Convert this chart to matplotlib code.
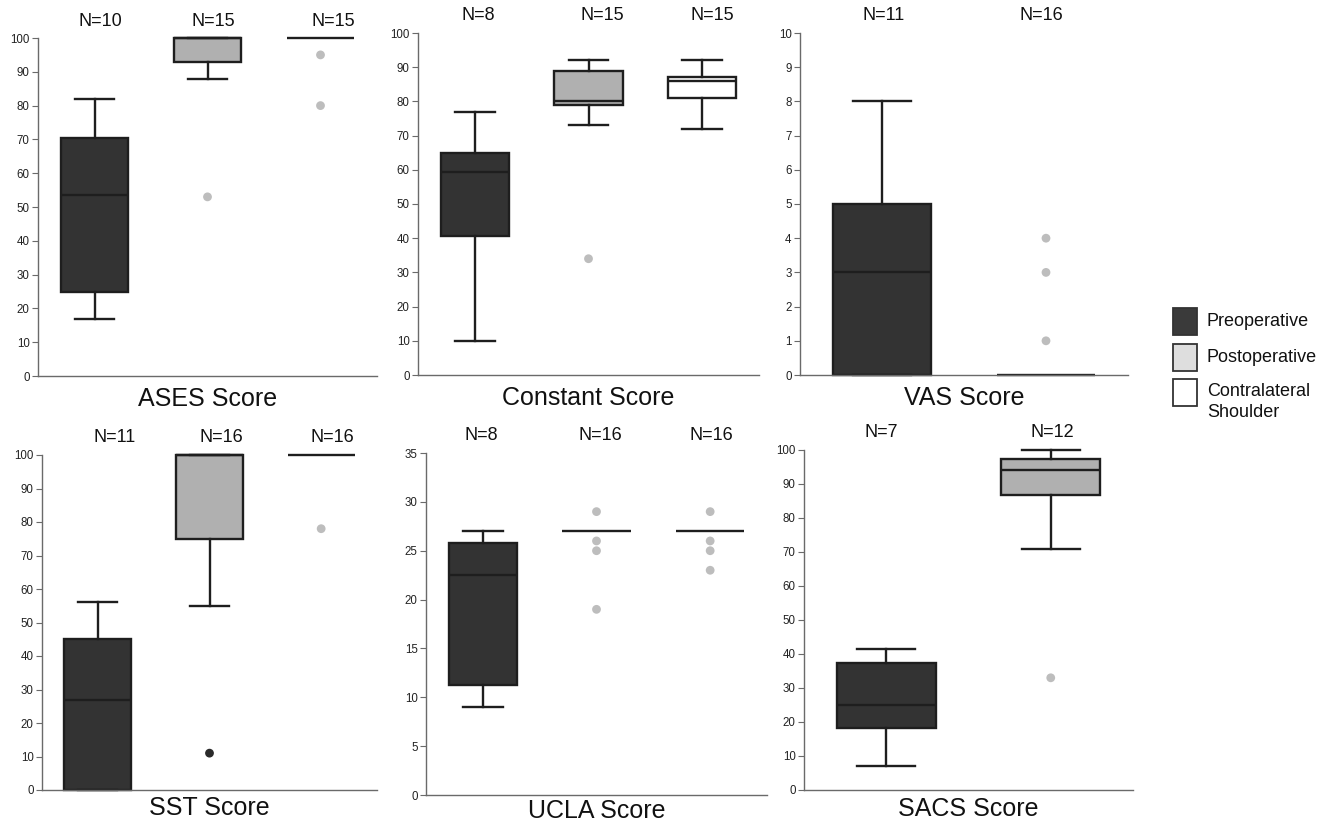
import matplotlib
matplotlib.use("Agg")
import matplotlib.pyplot as plt
from matplotlib.patches import Rectangle

plt.rcParams['font.family'] = ['Liberation Sans', 'DejaVu Sans']

# ---------------- data ----------------
groups = ["Preoperative", "Postoperative", "Contralateral\nShoulder"]

titles = ["ASES Score", "Constant Score", "VAS Score",
          "SST Score", "UCLA Score", "SACS Score"]

n_labels = [["N=10", "N=15", "N=15"],
            ["N=8", "N=15", "N=15"],
            ["N=11", "N=16"],
            ["N=11", "N=16", "N=16"],
            ["N=8", "N=16", "N=16"],
            ["N=7", "N=12"]]

# box statistics per panel: q1, median, q3, lower whisker, upper whisker, outliers
ases_q1 = [25, 93, 100]
ases_med = [53.5, 100, 100]
ases_q3 = [70.5, 100, 100]
ases_lo = [17, 88, 100]
ases_hi = [82, 100, 100]
ases_out = [[], [53], [95, 80]]

const_q1 = [40.5, 79, 81]
const_med = [59.5, 80, 86]
const_q3 = [65, 89, 87]
const_lo = [10, 73, 72]
const_hi = [77, 92, 92]
const_out = [[], [34], []]

vas_q1 = [0, 0]
vas_med = [3, 0]
vas_q3 = [5, 0]
vas_lo = [0, 0]
vas_hi = [8, 0]
vas_out = [[], [4, 3, 1]]

sst_q1 = [0, 75, 100]
sst_med = [27, 100, 100]
sst_q3 = [45, 100, 100]
sst_lo = [0, 55, 100]
sst_hi = [56, 100, 100]
sst_out = [[], [11], [78]]
sst_out_dark = [False, True, False]

ucla_q1 = [11.3, 27, 27]
ucla_med = [22.5, 27, 27]
ucla_q3 = [25.8, 27, 27]
ucla_lo = [9, 27, 27]
ucla_hi = [27, 27, 27]
ucla_out = [[], [29, 26, 25, 19], [29, 26, 25, 23]]

sacs_q1 = [18.3, 86.7]
sacs_med = [25, 94]
sacs_q3 = [37.5, 97.5]
sacs_lo = [7, 71]
sacs_hi = [41.5, 100]
sacs_out = [[], [33]]

y_max = [100, 100, 10, 100, 35, 100]
y_step = [10, 10, 1, 10, 5, 10]

panels = [
    (ases_q1, ases_med, ases_q3, ases_lo, ases_hi, ases_out, None),
    (const_q1, const_med, const_q3, const_lo, const_hi, const_out, None),
    (vas_q1, vas_med, vas_q3, vas_lo, vas_hi, vas_out, None),
    (sst_q1, sst_med, sst_q3, sst_lo, sst_hi, sst_out, sst_out_dark),
    (ucla_q1, ucla_med, ucla_q3, ucla_lo, ucla_hi, ucla_out, None),
    (sacs_q1, sacs_med, sacs_q3, sacs_lo, sacs_hi, sacs_out, None),
]

# ---------------- styling / layout ----------------
box_colors = ["#333333", "#b0b0b0", "#ffffff"]
legend_colors = ["#3a3a3a", "#dedede", "#ffffff"]
edge = "#1e1e1e"
flier_gray = "#bdbdbd"
flier_dark = "#2a2a2a"
lw = 1.7

W, H = 1343, 825
px_rects = [(38, 377, 38, 376), (418, 759, 33, 375), (800, 1128, 33, 375),
            (42, 377, 455, 790), (426, 767, 453, 795), (804, 1133, 450, 790)]
n_label_x = [[1.05, 2.05, 3.11], [1.03, 2.12, 3.09], [1.01, 1.97],
             [1.15, 2.11, 3.10], [0.99, 2.03, 3.01], [0.97, 2.01]]
label_pads = [8, 8, 8, 4.5, 3, 5]

fig = plt.figure(figsize=(W / 100, H / 100), dpi=100)

for i, (q1, med, q3, lo, hi, outs, dark) in enumerate(panels):
    l, r, t, b = px_rects[i]
    ax = fig.add_axes([l / W, 1 - b / H, (r - l) / W, (b - t) / H])
    n = len(q1)
    stats = []
    for k in range(n):
        stats.append(dict(q1=q1[k], med=med[k], q3=q3[k], whislo=lo[k],
                          whishi=hi[k], fliers=[]))
    positions = list(range(1, n + 1))
    bp = ax.bxp(stats, positions=positions, widths=0.6, patch_artist=True,
                showfliers=False, showcaps=True,
                boxprops=dict(linewidth=lw, edgecolor=edge),
                medianprops=dict(color=edge, linewidth=lw, solid_capstyle='butt'),
                whiskerprops=dict(color=edge, linewidth=lw),
                capprops=dict(color=edge, linewidth=lw),
                capwidths=0.35)
    for key in ['boxes', 'medians', 'whiskers', 'caps']:
        for art in bp[key]:
            art.set_clip_on(False)
    for k, patch in enumerate(bp['boxes']):
        patch.set_facecolor(box_colors[k])
        if q1[k] == q3[k]:
            patch.set_edgecolor('none')
            patch.set_facecolor('none')
    for k in range(n):
        if q1[k] == q3[k] and lo[k] == hi[k]:
            bp['caps'][2 * k].set_visible(False)
            bp['caps'][2 * k + 1].set_visible(False)
    for k, vals in enumerate(outs):
        if vals:
            c = flier_dark if (dark is not None and dark[k]) else flier_gray
            ax.scatter([positions[k]] * len(vals), vals, s=40, color=c,
                       edgecolors='none', zorder=5, clip_on=False)
    ax.set_xlim(0.5, n + 0.5)
    ax.set_ylim(0, y_max[i])
    ax.set_yticks([v * y_step[i] for v in range(int(round(y_max[i] / y_step[i])) + 1)])
    ax.set_xticks([])
    for s in ['top', 'right']:
        ax.spines[s].set_visible(False)
    for s in ['left', 'bottom']:
        ax.spines[s].set_color('#6a6a6a')
        ax.spines[s].set_linewidth(1.0)
    ax.tick_params(axis='y', labelsize=8.3, length=4, width=0.8, color='#6a6a6a',
                   labelcolor='#222222', pad=2)
    ax.set_xlabel(titles[i], fontsize=18, labelpad=label_pads[i], color='#111111')
    for k, lab in enumerate(n_labels[i]):
        ax.annotate(lab, xy=(n_label_x[i][k], 1), xycoords=('data', 'axes fraction'),
                    xytext=(0, 9), textcoords='offset points', ha='center',
                    va='baseline', fontsize=13, color='#111111',
                    annotation_clip=False)

# legend drawn manually at its reference position
leg_y = [308, 344, 379]
for k, g in enumerate(groups):
    y0 = leg_y[k]
    fig.add_artist(Rectangle((1173 / W, 1 - (y0 + 27) / H), 24 / W, 27 / H,
                             transform=fig.transFigure, facecolor=legend_colors[k],
                             edgecolor='#333333', linewidth=1.3))
    if k < 2:
        fig.text(1207 / W, 1 - (y0 + 13) / H, g, fontsize=13, va='center',
                 ha='left', color='#111111', transform=fig.transFigure)
    else:
        fig.text(1207 / W, 1 - (y0 + 4) / H, g, fontsize=13, va='top', ha='left',
                 color='#111111', linespacing=1.3, transform=fig.transFigure)

fig.savefig("out.png", dpi=100, facecolor='white')
